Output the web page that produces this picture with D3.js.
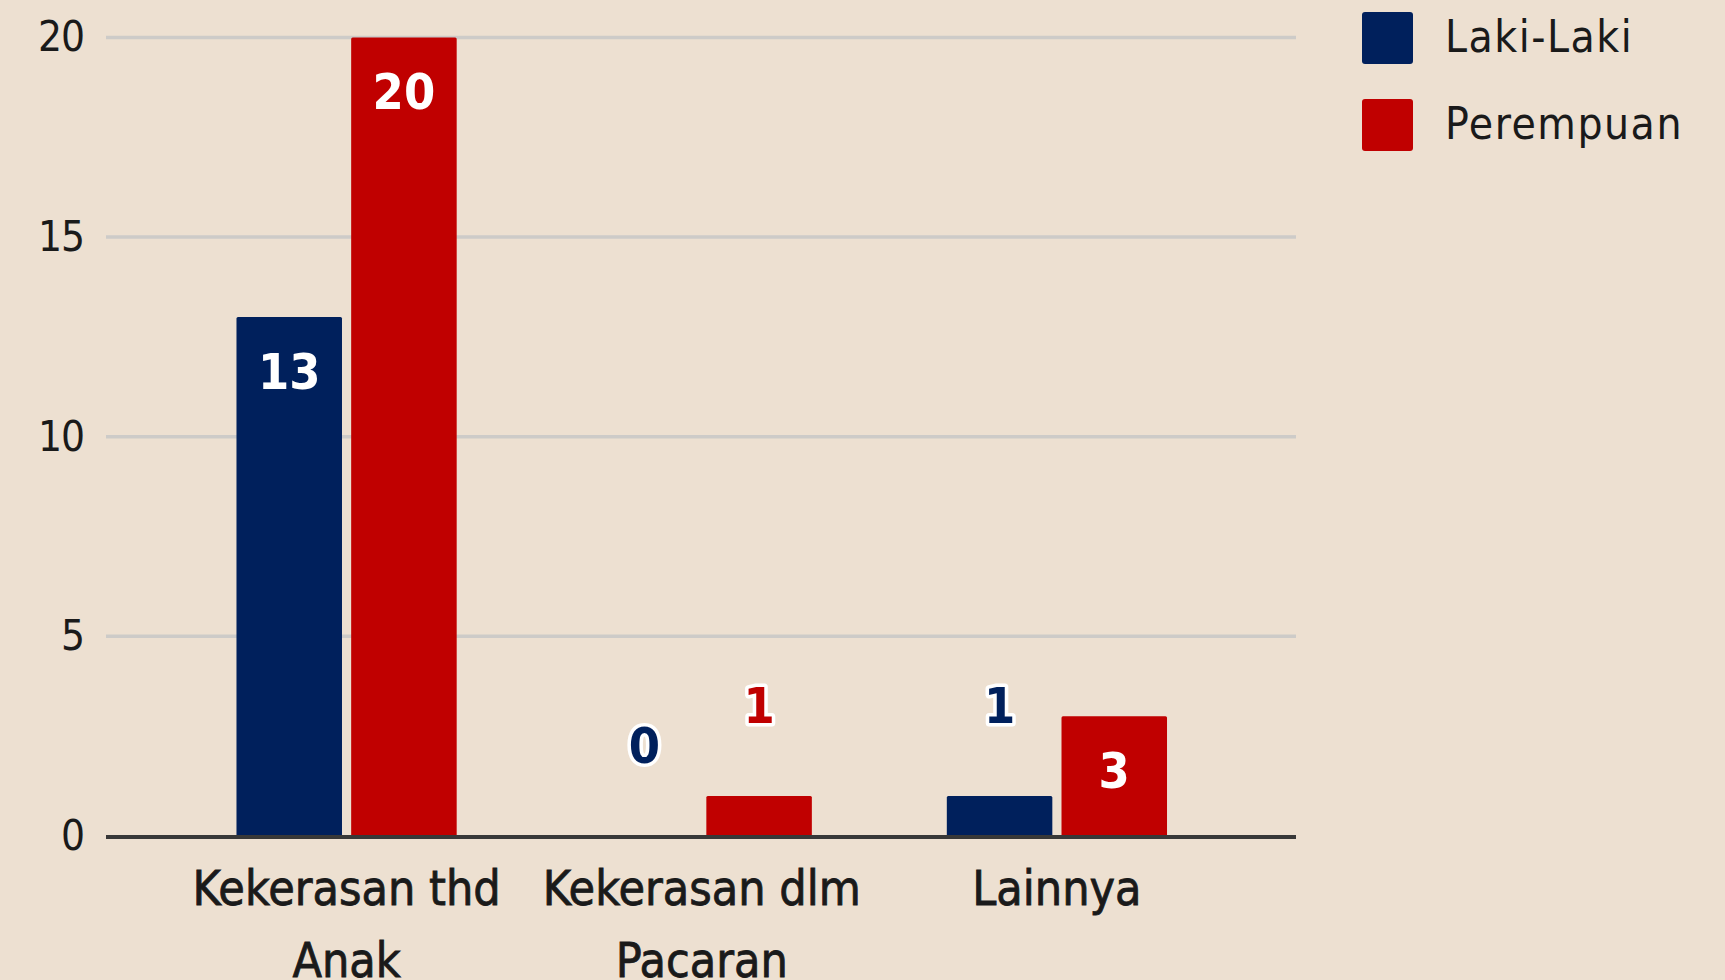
<!DOCTYPE html>
<meta charset="utf-8">
<script src="https://d3js.org/d3.v7.min.js"></script>
<style>
  body { margin: 0; background: #ede0d1; }
  svg { display: block; }
  .tick text { font-family: "DejaVu Sans Condensed", "DejaVu Sans", sans-serif; }
</style>
<div id="chart"></div>
<script>
// data
const categories = ["Kekerasan thd\nAnak", "Kekerasan dlm\nPacaran", "Lainnya"];
const seriesNames = ["Laki-Laki", "Perempuan"];
const lakiLaki = [13, 0, 1];
const perempuan = [20, 1, 3];
const yTicks = [0, 5, 10, 15, 20];
const colors = ["#00205c", "#c00000"];

const W = 1725, H = 980;
const svg = d3.select("#chart").append("svg")
    .attr("width", W).attr("height", H);

svg.append("rect").attr("width", W).attr("height", H).attr("fill", "#ede0d1");

const gridLeft = 106, gridRight = 1296;

const y = d3.scaleLinear().domain([0, 20]).range([836, 37.4]);
const x0 = d3.scaleBand().domain(categories).range([169, 1234.5])
    .paddingInner(0.38).paddingOuter(0.19);
const x1 = d3.scaleBand().domain(seriesNames).range([0, x0.bandwidth()]).paddingInner(0.08);

// gridlines
svg.append("g").selectAll("line")
  .data(yTicks.filter(d => d > 0))
  .enter().append("line")
    .attr("x1", gridLeft).attr("x2", gridRight)
    .attr("y1", d => y(d)).attr("y2", d => y(d))
    .attr("stroke", "#cdcbc8").attr("stroke-width", 3.5);

// y axis labels
const yAxis = svg.append("g")
    .attr("transform", "translate(84,0)")
    .call(d3.axisLeft(y).tickValues(yTicks).tickSize(0).tickPadding(0));
yAxis.select(".domain").remove();
yAxis.selectAll("text")
    .style("font-size", "42px").style("fill", "#1a1a1a")
    .style("letter-spacing", "-1px");

// bars
const rows = categories.map((c, i) => ({ cat: c, vals: [lakiLaki[i], perempuan[i]] }));
const groups = svg.append("g").selectAll("g")
  .data(rows).enter().append("g")
    .attr("transform", d => `translate(${x0(d.cat)},0)`);

const cells = groups.selectAll("g")
  .data(d => d.vals.map((v, j) => ({ name: seriesNames[j], v: v, j: j })))
  .enter().append("g");

cells.append("rect")
    .attr("x", d => x1(d.name))
    .attr("y", d => y(d.v))
    .attr("width", x1.bandwidth())
    .attr("height", d => y(0) - y(d.v))
    .attr("rx", 1.5)
    .attr("fill", d => colors[d.j]);

// value labels: inside the bar when it is tall enough, above it otherwise
const inside = d => (y(0) - y(d.v)) > 80;
cells.append("text")
    .attr("x", d => x1(d.name) + x1.bandwidth() / 2)
    .attr("y", d => inside(d) ? y(d.v) + 72 : y(d.v) - 73)
    .attr("text-anchor", "middle")
    .style("font-family", "'DejaVu Sans Condensed', 'DejaVu Sans', sans-serif")
    .style("font-weight", "bold")
    .style("font-size", "50px")
    .style("paint-order", "stroke")
    .attr("fill", d => inside(d) ? "#ffffff" : colors[d.j])
    .attr("stroke", d => inside(d) ? "none" : "#ffffff")
    .attr("stroke-width", 7)
    .attr("stroke-linejoin", "round")
    .text(d => d.v);

// x axis line
svg.append("line")
    .attr("x1", gridLeft).attr("x2", gridRight)
    .attr("y1", 837).attr("y2", 837)
    .attr("stroke", "#383838").attr("stroke-width", 4);

// category labels
const catLabels = svg.append("g").selectAll("text")
  .data(categories).enter().append("text")
    .attr("x", d => x0(d) + x0.bandwidth() / 2)
    .attr("y", 905)
    .attr("text-anchor", "middle")
    .style("font-family", "'DejaVu Sans Condensed', 'DejaVu Sans', sans-serif")
    .style("font-size", "48px")
    .attr("fill", "#1a1a1a")
    .attr("stroke", "#1a1a1a").attr("stroke-width", 0.8);
catLabels.selectAll("tspan")
  .data(d => d.split("\n"))
  .enter().append("tspan")
    .attr("x", function() { return d3.select(this.parentNode).attr("x"); })
    .attr("dy", (d, i) => i === 0 ? 0 : 72)
    .text(d => d);

// legend
const legend = svg.append("g").attr("transform", "translate(1362,12)");
const items = legend.selectAll("g").data(seriesNames).enter().append("g")
    .attr("transform", (d, i) => `translate(0,${i * 87})`);
items.append("rect")
    .attr("width", 51).attr("height", 52).attr("rx", 3)
    .attr("fill", (d, i) => colors[i]);
items.append("text")
    .attr("x", 83).attr("y", 40)
    .style("font-family", "'DejaVu Sans Condensed', 'DejaVu Sans', sans-serif")
    .style("font-size", "44px")
    .style("letter-spacing", "1.5px")
    .attr("fill", "#1a1a1a")
    .text(d => d);
</script>
